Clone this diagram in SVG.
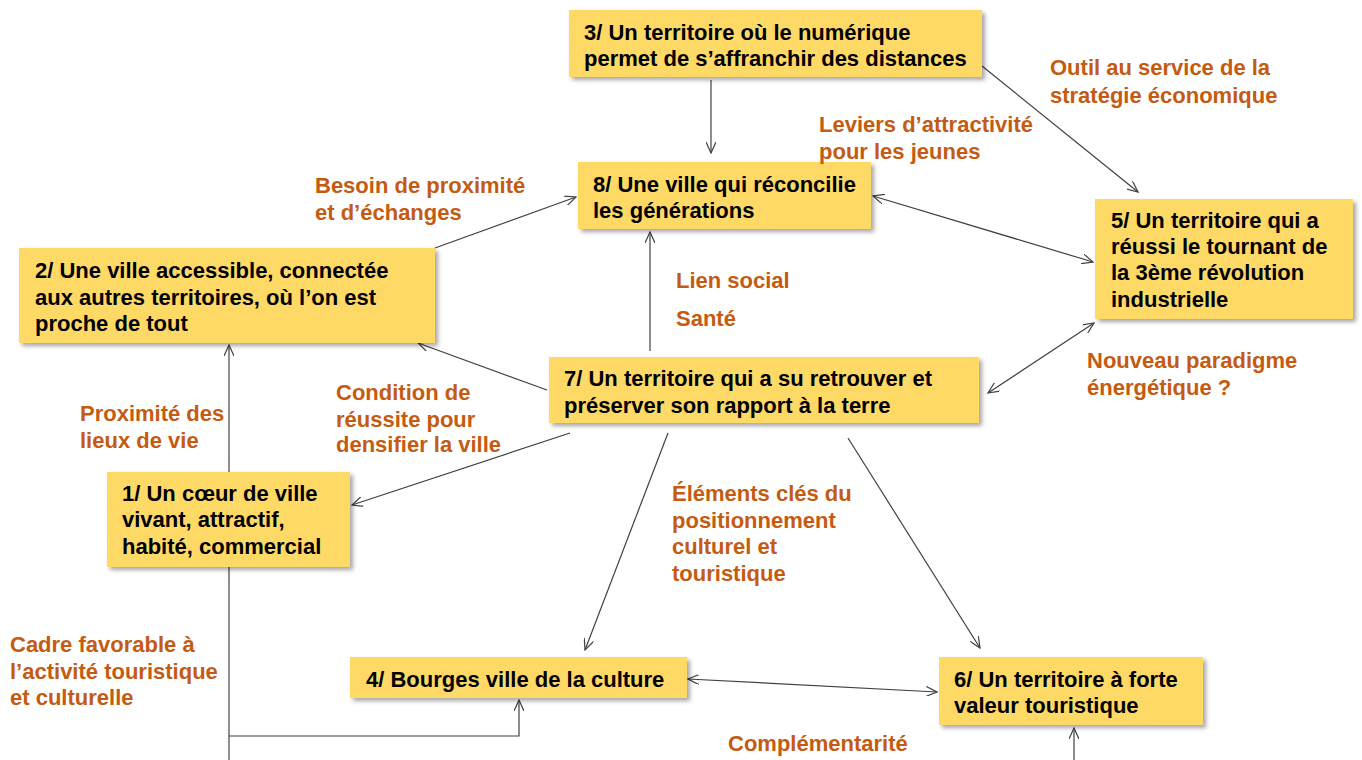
<svg xmlns="http://www.w3.org/2000/svg" width="1362" height="760" viewBox="0 0 1362 760">
<style>
.box{fill:#FFD966;filter:url(#sh);}
.t{font-family:"Liberation Sans",Arial,sans-serif;font-weight:bold;font-size:22px;fill:#000;}
.l{font-family:"Liberation Sans",Arial,sans-serif;font-weight:bold;font-size:22px;fill:#C55A11;}
.c{fill:none;stroke:#404040;stroke-width:1.2;}
.a{marker-end:url(#ah);}
.d{marker-start:url(#ah);marker-end:url(#ah);}
</style>
<defs>
<filter id="sh" x="-10%" y="-10%" width="120%" height="130%">
<feDropShadow dx="3" dy="3" stdDeviation="2" flood-color="#000" flood-opacity="0.35"/>
</filter>
<marker id="ah" viewBox="0 0 12 10" refX="11" refY="5" markerWidth="12" markerHeight="10" markerUnits="userSpaceOnUse" orient="auto-start-reverse">
<path d="M0,0 L11,5 L0,10" fill="none" stroke="#404040" stroke-width="1.2"/>
</marker>
</defs>
<rect width="1362" height="760" fill="#fff"/>
<g id="connectors">
<line class="c a" x1="711" y1="80" x2="711" y2="153"/>
<line class="c a" x1="982" y1="66" x2="1138" y2="192"/>
<line class="c d" x1="873" y1="196" x2="1093" y2="262"/>
<line class="c a" x1="435" y1="248" x2="576" y2="197"/>
<line class="c a" x1="650" y1="351" x2="650" y2="232"/>
<line class="c a" x1="547" y1="390" x2="418" y2="343"/>
<line class="c d" x1="1094" y1="323" x2="988" y2="393"/>
<line class="c a" x1="570" y1="433" x2="352" y2="505"/>
<line class="c a" x1="668" y1="433" x2="585" y2="650"/>
<line class="c a" x1="848" y1="438" x2="980" y2="648"/>
<line class="c d" x1="688" y1="679" x2="937" y2="692"/>
<line class="c a" x1="229" y1="760" x2="229" y2="345"/>
<polyline class="c a" points="229,736 519,736 519,700"/>
<line class="c a" x1="1074" y1="760" x2="1074" y2="728"/>
</g>
<g id="n3"><rect class="box" x="569" y="10" width="413" height="67"/>
<text class="t" x="584" y="40">3/ Un territoire où le numérique</text>
<text class="t" x="584" y="66">permet de s’affranchir des distances</text></g>
<g id="n8"><rect class="box" x="578" y="162" width="293" height="67"/>
<text class="t" x="593" y="192">8/ Une ville qui réconcilie</text>
<text class="t" x="593" y="218">les générations</text></g>
<g id="n2"><rect class="box" x="19" y="248" width="416" height="95"/>
<text class="t" x="35" y="278">2/ Une ville accessible, connectée</text>
<text class="t" x="35" y="305">aux autres territoires, où l’on est</text>
<text class="t" x="35" y="331">proche de tout</text></g>
<g id="n5"><rect class="box" x="1095" y="199" width="258" height="120"/>
<text class="t" x="1111" y="228">5/ Un territoire qui a</text>
<text class="t" x="1111" y="254">réussi le tournant de</text>
<text class="t" x="1111" y="280">la 3ème révolution</text>
<text class="t" x="1111" y="307">industrielle</text></g>
<g id="n7"><rect class="box" x="549" y="357" width="430" height="66"/>
<text class="t" x="564" y="386">7/ Un territoire qui a su retrouver et</text>
<text class="t" x="564" y="413">préserver son rapport à la terre</text></g>
<g id="n1"><rect class="box" x="107" y="472" width="243" height="95"/>
<text class="t" x="122" y="501">1/ Un cœur de ville</text>
<text class="t" x="122" y="527">vivant, attractif,</text>
<text class="t" x="122" y="554">habité, commercial</text></g>
<g id="n4"><rect class="box" x="350" y="657" width="337" height="41"/>
<text class="t" x="366" y="687">4/ Bourges ville de la culture</text></g>
<g id="n6"><rect class="box" x="939" y="657" width="264" height="68"/>
<text class="t" x="954" y="687">6/ Un territoire à forte</text>
<text class="t" x="954" y="713">valeur touristique</text></g>
<g id="labels">
<text class="l" x="1050" y="75">Outil au service de la</text>
<text class="l" x="1050" y="103">stratégie économique</text>
<text class="l" x="819" y="132">Leviers d’attractivité</text>
<text class="l" x="819" y="159">pour les jeunes</text>
<text class="l" x="315" y="193">Besoin de proximité</text>
<text class="l" x="315" y="220">et d’échanges</text>
<text class="l" x="676" y="288">Lien social</text>
<text class="l" x="676" y="326">Santé</text>
<text class="l" x="1087" y="368">Nouveau paradigme</text>
<text class="l" x="1087" y="395">énergétique ?</text>
<text class="l" x="336" y="400">Condition de</text>
<text class="l" x="336" y="427">réussite pour</text>
<text class="l" x="336" y="452">densifier la ville</text>
<text class="l" x="80" y="421">Proximité des</text>
<text class="l" x="80" y="448">lieux de vie</text>
<text class="l" x="672" y="501">Éléments clés du</text>
<text class="l" x="672" y="528">positionnement</text>
<text class="l" x="672" y="554">culturel et</text>
<text class="l" x="672" y="581">touristique</text>
<text class="l" x="10" y="652">Cadre favorable à</text>
<text class="l" x="10" y="679">l’activité touristique</text>
<text class="l" x="10" y="705">et culturelle</text>
<text class="l" x="728" y="751">Complémentarité</text>
</g>
</svg>
